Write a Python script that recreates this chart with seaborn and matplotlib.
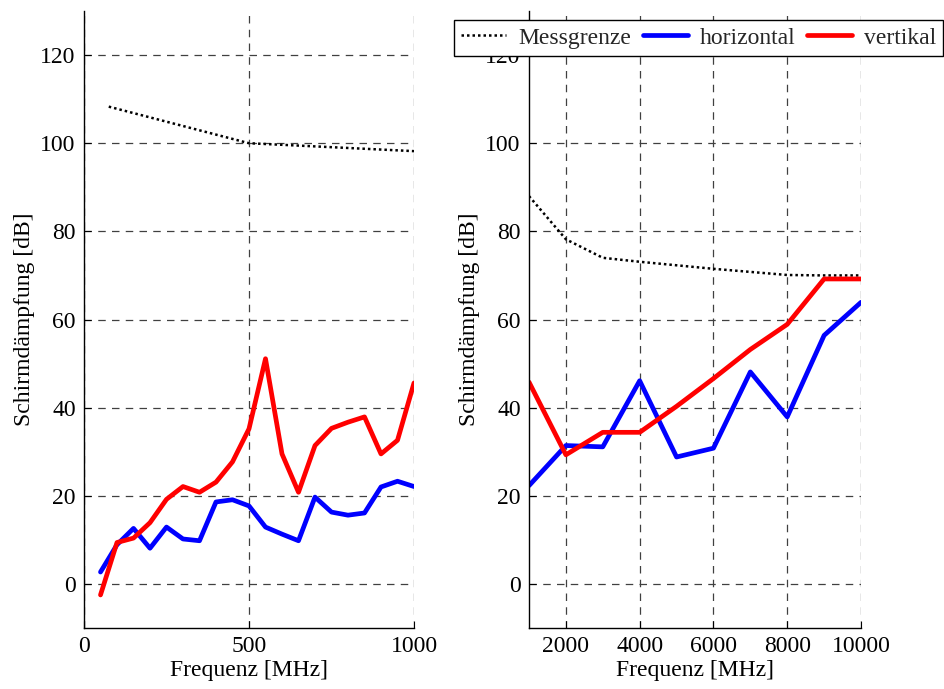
import numpy as np
import pandas as pd
import matplotlib
matplotlib.use("Agg")
import matplotlib.pyplot as plt
import seaborn as sns

# ---- data ----
freq_low = [50, 100, 150, 200, 250, 300, 350, 400, 450, 500,
            550, 600, 650, 700, 750, 800, 850, 900, 950, 1000]
horiz_low = [2.7, 8.9, 12.6, 8.1, 12.9, 10.2, 9.8, 18.6, 19.1, 17.7,
             12.9, 11.3, 9.8, 19.7, 16.3, 15.6, 16.1, 22.0, 23.3, 22.1]
vert_low = [-2.5, 9.4, 10.4, 13.9, 19.2, 22.1, 20.8, 23.1, 27.7, 35.2,
            51.1, 29.5, 20.8, 31.4, 35.3, 36.7, 37.9, 29.5, 32.6, 45.6]
mess_freq_low = [75, 500, 1000]
mess_low = [108.3, 100.0, 98.2]

freq_high = [1000, 2000, 3000, 4000, 5000, 6000, 7000, 8000, 9000, 10000]
horiz_high = [22.3, 31.4, 31.1, 46.1, 28.8, 30.8, 48.1, 37.9, 56.4, 63.9]
vert_high = [45.8, 29.3, 34.4, 34.4, 40.3, 46.6, 53.2, 58.9, 69.2, 69.2]
mess_high = [88.0, 78.2, 74.0, 73.1, 72.3, 71.5, 70.8, 70.1, 70.0, 70.0]

yticks = [0, 20, 40, 60, 80, 100, 120]
xticks_low = [0, 500, 1000]
xticks_high = [2000, 4000, 6000, 8000, 10000]
labels = ["Messgrenze", "horizontal", "vertikal"]

sns.set_theme(style="white")
plt.rcParams['font.family'] = ['Liberation Serif', 'DejaVu Serif']
plt.rcParams['mathtext.fontset'] = 'stix'

fig = plt.figure(figsize=(9.45, 6.89), dpi=100)
W, H = 945, 689

def add_ax(x0, x1, y0, y1):
    return fig.add_axes([x0 / W, 1 - y1 / H, (x1 - x0) / W, (y1 - y0) / H])

ax1 = add_ax(84, 414, 11, 628)
ax2 = add_ax(529, 861, 11, 628)

FS = 17
LW = 3.4

def style(ax, xlim, xticks):
    ax.set_xlim(*xlim)
    ax.set_ylim(-10, 130)
    ax.set_xticks(xticks)
    ax.set_yticks(yticks)
    ax.set_xticklabels([str(t) for t in xticks])
    ax.set_yticklabels([str(t) for t in yticks])
    ax.grid(True, color="#404040", linestyle=(0, (6, 5)), linewidth=0.9)
    for s in ["top", "right"]:
        ax.spines[s].set_visible(False)
    for s in ["left", "bottom"]:
        ax.spines[s].set_color("black")
        ax.spines[s].set_linewidth(1.0)
    ax.tick_params(direction="in", length=5, width=0.8, colors="black",
                   labelsize=FS, pad=6, left=True, bottom=True)
    ax.set_xlabel("Frequenz [MHz]", fontsize=FS, color="black", labelpad=2)
    ax.set_ylabel("Schirmdämpfung [dB]", fontsize=FS, color="black", labelpad=4)
    ax.set_facecolor("white")

# left panel
sns.lineplot(x=mess_freq_low, y=mess_low, ax=ax1, color="black", linewidth=1.8,
             linestyle=(0, (1, 1.2)), legend=False)
sns.lineplot(x=freq_low, y=horiz_low, ax=ax1, color="#0000ff", linewidth=LW, legend=False)
sns.lineplot(x=freq_low, y=vert_low, ax=ax1, color="#ff0000", linewidth=LW, legend=False)
style(ax1, (0, 1000), xticks_low)

# right panel
sns.lineplot(x=freq_high, y=mess_high, ax=ax2, color="black", linewidth=1.8,
             linestyle=(0, (1, 1.2)), legend=False)
sns.lineplot(x=freq_high, y=horiz_high, ax=ax2, color="#0000ff", linewidth=LW, legend=False)
sns.lineplot(x=freq_high, y=vert_high, ax=ax2, color="#ff0000", linewidth=LW, legend=False)
style(ax2, (1000, 10000), xticks_high)

handles = ax2.get_lines()[:3]
leg = fig.legend(handles, labels, loc="upper right",
                 bbox_to_anchor=(943 / W, 1 - 20 / H), ncol=3, fontsize=FS,
                 frameon=True, fancybox=False, edgecolor="black", framealpha=1,
                 handlelength=1.9, handletextpad=0.5, columnspacing=0.5,
                 borderpad=0.3, borderaxespad=0)
leg.get_frame().set_linewidth(1.0)

fig.savefig("out.png", dpi=100, facecolor="white")
